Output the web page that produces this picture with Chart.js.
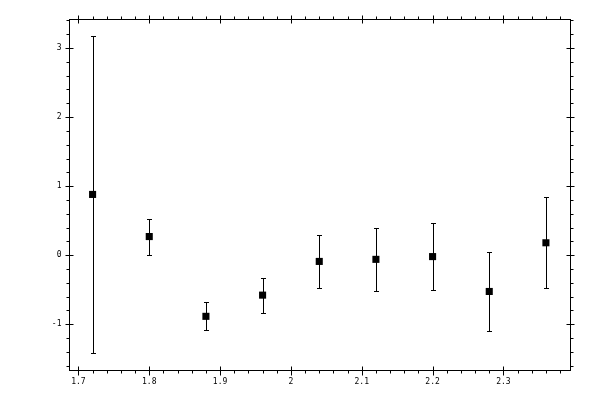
<!DOCTYPE html>
<html>
<head>
<meta charset="utf-8">
<script src="https://cdn.jsdelivr.net/npm/chart.js@4/dist/chart.umd.min.js"></script>
<style>
  html, body { margin: 0; padding: 0; background: #fff; }
  canvas { display: block; }
</style>
</head>
<body>
<canvas id="chart" width="600" height="400"></canvas>
<script>
const xValues = [1.72, 1.80, 1.88, 1.96, 2.04, 2.12, 2.20, 2.28, 2.36];
const yValues = [0.88, 0.27, -0.885, -0.578, -0.09, -0.06, -0.02, -0.525, 0.18];
const yErrors = [2.3, 0.26, 0.205, 0.255, 0.38, 0.455, 0.49, 0.57, 0.66];

const xTicks = [1.7, 1.8, 1.9, 2.0, 2.1, 2.2, 2.3];
const xTickLabels = ['1.7', '1.8', '1.9', '2', '2.1', '2.2', '2.3'];
const yTicks = [-1, 0, 1, 2, 3];
const yTickLabels = ['-1', '0', '1', '2', '3'];

const X_MIN = 1.6867, X_MAX = 2.394;
const Y_MIN = -1.662, Y_MAX = 3.42;
const X_MINOR_STEP = 0.02, Y_MINOR_STEP = 0.2;

const FONT = '8px "DejaVu Sans Mono", monospace';

// error bars with small caps
const errorBars = {
  id: 'errorBars',
  beforeDatasetsDraw(chart) {
    const { ctx, scales: { x, y } } = chart;
    ctx.save();
    ctx.strokeStyle = '#000';
    ctx.lineWidth = 1;
    xValues.forEach((xv, i) => {
      const px = Math.round(x.getPixelForValue(xv)) + 0.5;
      const top = Math.round(y.getPixelForValue(yValues[i] + yErrors[i])) + 0.5;
      const bot = Math.round(y.getPixelForValue(yValues[i] - yErrors[i])) + 0.5;
      ctx.beginPath();
      ctx.moveTo(px, top); ctx.lineTo(px, bot);
      ctx.moveTo(px - 2.5, top); ctx.lineTo(px + 2.5, top);
      ctx.moveTo(px - 2.5, bot); ctx.lineTo(px + 2.5, bot);
      ctx.stroke();
    });
    ctx.restore();
  }
};

// box frame with mirrored ticks on all four sides
const frameAxes = {
  id: 'frameAxes',
  afterDraw(chart) {
    const { ctx, chartArea: a, scales: { x, y } } = chart;
    const L = Math.round(a.left) + 0.5, R = Math.round(a.right) + 0.5;
    const T = Math.round(a.top) + 0.5, B = Math.round(a.bottom) + 0.5;
    ctx.save();
    ctx.strokeStyle = '#000';
    ctx.lineWidth = 1;
    ctx.strokeRect(L, T, R - L, B - T);

    ctx.beginPath();
    // minor ticks, outward
    for (let v = Math.ceil(X_MIN / X_MINOR_STEP) * X_MINOR_STEP; v <= X_MAX; v += X_MINOR_STEP) {
      const px = Math.round(x.getPixelForValue(v)) + 0.5;
      ctx.moveTo(px, B); ctx.lineTo(px, B + 3);
      ctx.moveTo(px, T); ctx.lineTo(px, T - 3);
    }
    for (let v = Math.ceil(Y_MIN / Y_MINOR_STEP) * Y_MINOR_STEP; v <= Y_MAX; v += Y_MINOR_STEP) {
      const py = Math.round(y.getPixelForValue(v)) + 0.5;
      ctx.moveTo(L, py); ctx.lineTo(L - 3, py);
      ctx.moveTo(R, py); ctx.lineTo(R + 3, py);
    }
    // major ticks, crossing the frame
    xTicks.forEach(v => {
      const px = Math.round(x.getPixelForValue(v)) + 0.5;
      ctx.moveTo(px, B - 4); ctx.lineTo(px, B + 5);
      ctx.moveTo(px, T - 4); ctx.lineTo(px, T + 4);
    });
    yTicks.forEach(v => {
      const py = Math.round(y.getPixelForValue(v)) + 0.5;
      ctx.moveTo(L - 4, py); ctx.lineTo(L + 4, py);
      ctx.moveTo(R - 4, py); ctx.lineTo(R + 4, py);
    });
    ctx.stroke();

    // labels
    ctx.fillStyle = '#000';
    ctx.font = FONT;
    ctx.textBaseline = 'middle';
    ctx.textAlign = 'center';
    xTicks.forEach((v, i) => {
      ctx.fillText(xTickLabels[i], x.getPixelForValue(v), B + 11);
    });
    ctx.textAlign = 'right';
    yTicks.forEach((v, i) => {
      ctx.fillText(yTickLabels[i], L - 8, y.getPixelForValue(v));
    });
    ctx.restore();
  }
};

new Chart(document.getElementById('chart'), {
  type: 'scatter',
  data: {
    datasets: [{
      data: xValues.map((xv, i) => ({ x: xv, y: yValues[i] })),
      pointStyle: 'rect',
      pointRadius: 5,
      pointHoverRadius: 5,
      backgroundColor: '#000',
      borderColor: '#000',
      borderWidth: 0
    }]
  },
  options: {
    responsive: false,
    animation: false,
    devicePixelRatio: 1,
    layout: { padding: { left: 69, top: 19, right: 30, bottom: 30 } },
    plugins: {
      legend: { display: false },
      tooltip: { enabled: false }
    },
    scales: {
      x: { type: 'linear', min: X_MIN, max: X_MAX, display: false },
      y: { type: 'linear', min: Y_MIN, max: Y_MAX, display: false }
    }
  },
  plugins: [errorBars, frameAxes]
});
</script>
</body>
</html>
